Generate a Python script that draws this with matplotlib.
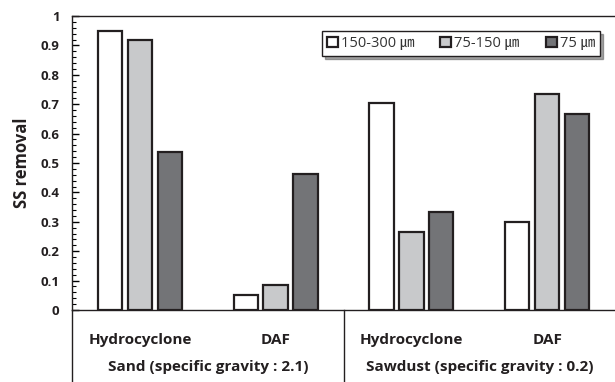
import matplotlib
matplotlib.use("Agg")
import matplotlib.pyplot as plt
from matplotlib.ticker import MultipleLocator
import numpy as np

plt.rcParams['font.family'] = ['Open Sans', 'Noto Sans CJK KR', 'DejaVu Sans']

categories = ["Hydrocyclone", "DAF", "Hydrocyclone", "DAF"]
groups = ["Sand (specific gravity : 2.1)", "Sawdust (specific gravity : 0.2)"]
series_labels = ["150-300 ㎛", "75-150 ㎛", "75 ㎛"]
s_150_300 = [0.95, 0.05, 0.704, 0.298]
s_75_150 = [0.918, 0.085, 0.265, 0.734]
s_75 = [0.537, 0.463, 0.333, 0.668]
yticks = [0, 0.1, 0.2, 0.3, 0.4, 0.5, 0.6, 0.7, 0.8, 0.9, 1]
ytick_labels = ["0", "0.1", "0.2", "0.3", "0.4", "0.5", "0.6", "0.7", "0.8", "0.9", "1"]

colors = ["#ffffff", "#c8c9cb", "#737477"]
edge = "#231f20"

fig = plt.figure(figsize=(6.15, 3.82), dpi=100)
ax = fig.add_axes([72/615, 1-310/382, 1-72/615, 294/382])

x = np.arange(len(categories))
w = 0.18
step = 0.22
for i, (vals, c, lab) in enumerate(zip([s_150_300, s_75_150, s_75], colors, series_labels)):
    ax.bar(x + (i-1)*step, vals, width=w, color=c, edgecolor=edge, linewidth=1.6, label=lab)

ax.set_xlim(-0.5, 3.5)
ax.set_ylim(0, 1)
ax.set_yticks(yticks)
ax.set_yticklabels(ytick_labels, fontsize=9.5, fontweight='bold', color='#231f20')
ax.yaxis.set_minor_locator(MultipleLocator(0.02))
ax.tick_params(axis='y', which='major', direction='in', length=5, width=1, pad=9)
ax.tick_params(axis='y', which='minor', direction='in', length=3, width=0.8)
ax.set_xticks([])
ax.spines['right'].set_visible(False)
for s in ['left', 'top', 'bottom']:
    ax.spines[s].set_color('#231f20')
    ax.spines[s].set_linewidth(1.0)

ax.set_ylabel("SS removal", fontsize=12, fontweight='bold', color='#231f20')
ax.yaxis.set_label_coords(-(72-31)/543, (310-163)/294)

trans = ax.get_xaxis_transform()
for xi, cat in zip(x, categories):
    ax.text(xi, -30/294, cat, transform=trans, ha='center', va='center',
            fontsize=11, fontweight='bold', color='#231f20')
for gi, g in enumerate(groups):
    ax.text(0.5 + 2*gi, -57/294, g, transform=trans, ha='center', va='center',
            fontsize=11, fontweight='bold', color='#231f20')
bottom = -(382-310)/294
ax.plot([-0.5, -0.5], [0, bottom], transform=trans, color='#231f20', lw=1.0, clip_on=False)
ax.plot([1.5, 1.5], [0, bottom], transform=trans, color='#231f20', lw=1.0, clip_on=False)

leg = ax.legend(loc='upper right', bbox_to_anchor=(600/615, 1-31/382),
                bbox_transform=fig.transFigure,
                ncol=3, fontsize=10.5, frameon=True, fancybox=False, shadow=True,
                handlelength=0.75, handleheight=0.75, handletextpad=0.2,
                columnspacing=1.8, borderpad=0.35, borderaxespad=0)
leg.get_frame().set_edgecolor('#231f20')
leg.get_frame().set_linewidth(1.0)
for t in leg.get_texts():
    t.set_color('#333333')
for h in leg.legend_handles:
    h.set_linewidth(1.6)

fig.savefig("out.png", dpi=100)
